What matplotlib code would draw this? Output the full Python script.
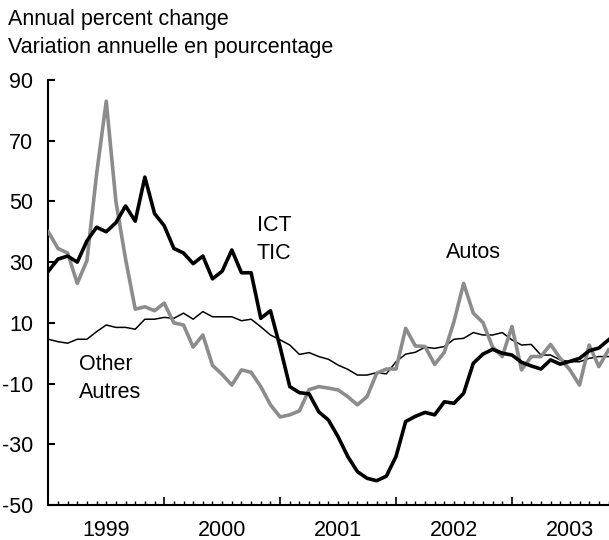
import numpy as np
import matplotlib
matplotlib.use("Agg")
import matplotlib.pyplot as plt
import matplotlib.transforms as mtransforms

plt.rcParams['font.family'] = ['Liberation Sans', 'DejaVu Sans']
plt.rcParams['axes.unicode_minus'] = False

# Monthly data, Jan 1999 - Nov 2003 (annual percent change)
years = ['1999', '2000', '2001', '2002', '2003']

ict = [27, 31, 32, 30, 37, 41.5, 40, 43, 48.5, 43.5, 58, 46,
       42, 34.5, 33, 29.5, 32, 24.5, 27, 34, 26.5, 26.5, 11.5, 14,
       2, -11, -13, -13.4, -19.3, -22, -27.5, -34, -39, -41.2, -42, -40.5,
       -34, -22.5, -20.8, -19.5, -20.3, -16, -16.5, -13.2, -3.3, -0.3, 1.3, 0,
       -0.6, -3, -4.2, -5.2, -2.2, -3.6, -2.7, -1.7, 0.8, 1.7, 4.4]

autos = [40, 34.5, 33, 23, 30.5, 59, 83, 50, 31, 14.5, 15.3, 14,
         16.5, 10, 9.3, 2, 6, -4, -7, -10.5, -5.5, -6.3, -11, -17,
         -21, -20.3, -19, -12, -11, -11.5, -12.1, -14.3, -17, -14.3, -6.6, -5.2,
         -5.2, 8.2, 2.4, 2.2, -3.7, 0.3, 10.4, 23, 13.2, 10.1, 2, -1.1,
         8.8, -5.5, -1.1, -1.1, 2.9, -1.7, -5.5, -10.5, 2.7, -4.4, 1.1]

other = [4.6, 3.8, 3.3, 4.6, 4.6, 7.1, 9.3, 8.5, 8.5, 7.9, 11.2, 11.2,
         11.8, 11.5, 13.2, 11.2, 13.7, 12, 12, 12, 10.7, 11.2, 8.7, 6,
         4.4, 2.7, -0.4, 0.2, -1.1, -2, -3.9, -5.3, -7.2, -7.2, -6.4, -6.8,
         -2.8, -0.3, 0.3, 2, 1.6, 2.2, 4.6, 4.9, 6.8, 6, 6, 6.8,
         4.4, 2.7, 2.9, -0.6, -0.6, -2.2, -2.8, -2.8, -1.7, -1.1, -1.1]

months = np.arange(len(ict))

fig = plt.figure(figsize=(6.09, 5.40), dpi=100)
ax = fig.add_axes([0.0793, 0.0648, 0.9207, 0.7871])

ax.plot(months, other, color='black', lw=1.1, zorder=2)
ax.plot(months, autos, color='#8c8c8c', lw=2.6, zorder=3)
ax.plot(months, ict, color='black', lw=2.6, zorder=4)

ax.set_xlim(0, 58.05)
ax.set_ylim(-50, 90)

ax.spines['top'].set_visible(False)
ax.spines['right'].set_visible(False)
ax.spines['left'].set_linewidth(1.5)
ax.spines['bottom'].set_linewidth(1.5)

ax.set_yticks(np.arange(-50, 91, 20))
ax.tick_params(axis='y', direction='in', length=5, width=1.5, pad=11, labelsize=15.5)

ax.set_xticks(np.arange(0, 59, 12))
ax.set_xticklabels([])
ax.set_xticks(months, minor=True)
ax.tick_params(axis='x', which='major', direction='in', length=6, width=1.2)
ax.tick_params(axis='x', which='minor', direction='in', length=3, width=1.0)

# year labels centered in each year
trans = mtransforms.blended_transform_factory(ax.transData, ax.transAxes)
for k, yr in enumerate(years):
    ax.text(6 + 12 * k, -0.036, yr, transform=trans, ha='center', va='top', fontsize=15.5)

# series labels
ax.text(21.6, 42.2, 'ICT', fontsize=15.5, ha='left', va='center')
ax.text(21.6, 33.0, 'TIC', fontsize=15.5, ha='left', va='center')
ax.text(44.0, 33.3, 'Autos', fontsize=15.5, ha='center', va='center')
ax.text(3.2, -3.7, 'Other', fontsize=15.5, ha='left', va='center')
ax.text(3.2, -12.9, 'Autres', fontsize=15.5, ha='left', va='center')

fig.text(8 / 609, 1 - 19 / 540, 'Annual percent change', fontsize=15.5, ha='left', va='center')
fig.text(8 / 609, 1 - 48 / 540, 'Variation annuelle en pourcentage', fontsize=15.5, ha='left', va='center')

fig.savefig('out.png', dpi=100)
